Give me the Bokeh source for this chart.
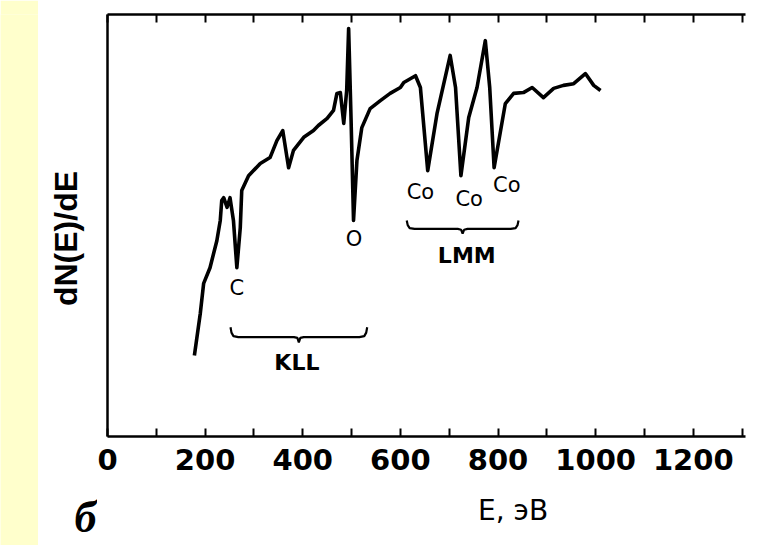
import math
from bokeh.plotting import figure
from bokeh.models import Range1d, LinearAxis, FixedTicker, ColumnDataSource
from bokeh.layouts import row, column
from bokeh.embed import file_html
from bokeh.resources import INLINE
from bokeh.core.properties import value

# ---- data ----
energy = [178, 190, 197, 210, 224, 231, 234, 238, 245, 251, 258, 265, 272, 275, 289,
          313, 333, 347, 359, 371, 381, 402, 422, 432, 450, 463, 470, 477, 484, 490,
          494, 499, 504, 511, 521, 538, 559, 579, 600, 607, 631, 641, 656, 675, 702,
          713, 724, 740, 757, 774, 783, 792, 815, 832, 852, 870, 893, 914, 934, 955,
          979, 996, 1010]
signal = [19.2, 29.1, 36.3, 40.0, 46.4, 51.2, 55.9, 56.6, 54.3, 56.6, 51.2, 40.0, 49.5, 58.3, 61.8,
          64.7, 66.1, 70.1, 72.5, 63.7, 67.8, 70.9, 72.5, 73.7, 75.4, 77.3, 81.3, 81.5, 74.2, 82.0,
          96.7, 75.0, 51.2, 65.4, 73.2, 77.7, 79.6, 81.3, 82.7, 83.9, 85.5, 82.7, 63.0, 76.5, 90.3,
          82.7, 61.8, 75.6, 82.7, 93.8, 82.7, 63.7, 78.9, 81.3, 81.5, 82.7, 80.3, 82.5, 83.2, 83.6,
          86.0, 83.2, 82.0]

peak_labels = ["C", "O", "Co", "Co", "Co"]
peak_label_x = [265, 505, 641, 741, 818]
peak_label_y = [35.1, 46.8, 57.9, 56.3, 59.5]

group_labels = ["KLL", "LMM"]
group_label_x = [388, 736]
group_label_y = [17.6, 42.9]
brace_start = [252, 613]
brace_end = [532, 842]
brace_top = [25.9, 51.2]
brace_tip = [22.3, 48.1]

major_ticks = [0, 200, 400, 600, 800, 1000, 1200]
minor_ticks = [100, 300, 500, 700, 900, 1100, 1300]
tick_labels = ["0", "200", "400", "600", "800", "1000", "1200"]

y_title = "dN(E)/dE"
x_title = "E, эВ"
panel_letter = "б"

# ---- layout sizes (pixels) ----
STRIP_W = 38
SIDE_W = 59
TOTAL_H = 545
MAIN_H = 488
BOT_H = TOTAL_H - MAIN_H
BL, BR = 10, 6
FRAME_W = 638
W = BL + FRAME_W + BR
X_MAX = 1307

p = figure(width=W, height=MAIN_H, output_backend="svg", toolbar_location=None,
           x_range=Range1d(0, X_MAX), y_range=Range1d(0, 100),
           min_border_left=BL, min_border_right=BR, min_border_top=14, min_border_bottom=52,
           x_axis_location=None, y_axis_location=None)
p.grid.visible = False
p.outline_line_color = None
p.background_fill_color = "white"
p.border_fill_color = "white"

ticker = FixedTicker(ticks=major_ticks, minor_ticks=minor_ticks)

xb = LinearAxis(ticker=ticker)
xb.major_label_overrides = {t: l for t, l in zip(major_ticks, tick_labels)}
xb.axis_line_width = 2.5
xb.major_tick_in = 8
xb.major_tick_out = 0
xb.minor_tick_in = 8
xb.minor_tick_out = 0
xb.major_tick_line_width = 2
xb.minor_tick_line_width = 2
xb.major_label_standoff = 12
xb.major_label_text_font = "DejaVu Sans"
xb.major_label_text_font_style = "bold"
xb.major_label_text_font_size = "29px"
xb.major_label_text_color = "black"
p.add_layout(xb, "below")

xt = LinearAxis(ticker=ticker)
xt.axis_line_width = 2.5
xt.major_tick_in = 8
xt.major_tick_out = 0
xt.minor_tick_in = 8
xt.minor_tick_out = 0
xt.major_tick_line_width = 2
xt.minor_tick_line_width = 2
xt.major_label_text_color = None
xt.major_label_text_font_size = "1px"
p.add_layout(xt, "above")

yl = LinearAxis(ticker=FixedTicker(ticks=[]))
yl.axis_line_width = 2.5
yl.major_tick_out = 0
yl.minor_tick_out = 0
yl.major_tick_line_color = None
yl.minor_tick_line_color = None
yl.major_label_text_color = None
yl.major_label_standoff = 0
p.add_layout(yl, "left")

# spectrum
p.line(energy, signal, line_color="black", line_width=3.6, line_join="round")

# peak labels
src = ColumnDataSource(dict(x=peak_label_x, y=peak_label_y, t=peak_labels))
p.text(x="x", y="y", text="t", source=src, text_align="center", text_baseline="middle",
       text_font=value("DejaVu Sans"), text_font_size="21px", text_color="black")

gsrc = ColumnDataSource(dict(x=group_label_x, y=group_label_y, t=group_labels))
p.text(x="x", y="y", text="t", source=gsrc, text_align="center", text_baseline="middle",
       text_font=value("DejaVu Sans"), text_font_style="bold", text_font_size="22px",
       text_color="black")

# braces
bx, by = [], []
for x0, x1, yt, ytip in zip(brace_start, brace_end, brace_top, brace_tip):
    xm = (x0 + x1) / 2.0
    ymid = ytip + (yt - ytip) * 0.35
    hook = 16
    bx.append([x0, x0 + 2, x0 + 6, x0 + hook, xm - 10, xm - 3, xm, xm + 3, xm + 10,
               x1 - hook, x1 - 6, x1 - 2, x1])
    by.append([yt, yt - (yt - ymid) * 0.55, yt - (yt - ymid) * 0.9, ymid, ymid, ymid - 0.2,
               ytip, ymid - 0.2, ymid, ymid, yt - (yt - ymid) * 0.9, yt - (yt - ymid) * 0.55, yt])
p.multi_line(bx, by, line_color="black", line_width=2.2)

# bottom panel: x-axis title on the same energy scale
b = figure(width=W, height=BOT_H, output_backend="svg", toolbar_location=None,
           x_range=Range1d(0, X_MAX), y_range=Range1d(0, BOT_H),
           min_border_left=BL, min_border_right=BR, min_border_top=0, min_border_bottom=0,
           x_axis_location=None, y_axis_location=None)
b.grid.visible = False
b.outline_line_color = None
b.background_fill_color = "white"
b.border_fill_color = "white"
b.text(x=[831], y=[35], text=[x_title], text_align="center", text_baseline="middle",
       text_font=value("DejaVu Sans"), text_font_size="28px", text_color="black")

# side panel: y-axis title and panel letter (pixel units)
s = figure(width=SIDE_W, height=TOTAL_H, output_backend="svg", toolbar_location=None,
           x_range=Range1d(0, SIDE_W), y_range=Range1d(0, TOTAL_H - 14),
           min_border_left=0, min_border_right=0, min_border_top=14, min_border_bottom=0,
           x_axis_location=None, y_axis_location=None)
s.grid.visible = False
s.outline_line_color = None
s.background_fill_color = "white"
s.border_fill_color = "white"
s.text(x=[27], y=[307], text=[y_title], angle=math.pi / 2, text_align="center",
       text_baseline="middle", text_font=value("Liberation Sans"), text_font_style="bold",
       text_font_size="32px", text_color="black")
s.text(x=[47], y=[28], text=[panel_letter], text_align="center", text_baseline="middle",
       text_font=value("Liberation Serif"), text_font_style="bold italic",
       text_font_size="44px", text_color="black")

strip = figure(width=STRIP_W, height=TOTAL_H, output_backend="svg", toolbar_location=None,
               x_axis_location=None, y_axis_location=None, min_border=0)
strip.grid.visible = False
strip.outline_line_color = None
strip.background_fill_color = "#FFFFCC"
strip.border_fill_color = "#FFFFCC"

layout = row(strip, s, column(p, b))
open("out.html", "w").write(file_html(layout, INLINE))
